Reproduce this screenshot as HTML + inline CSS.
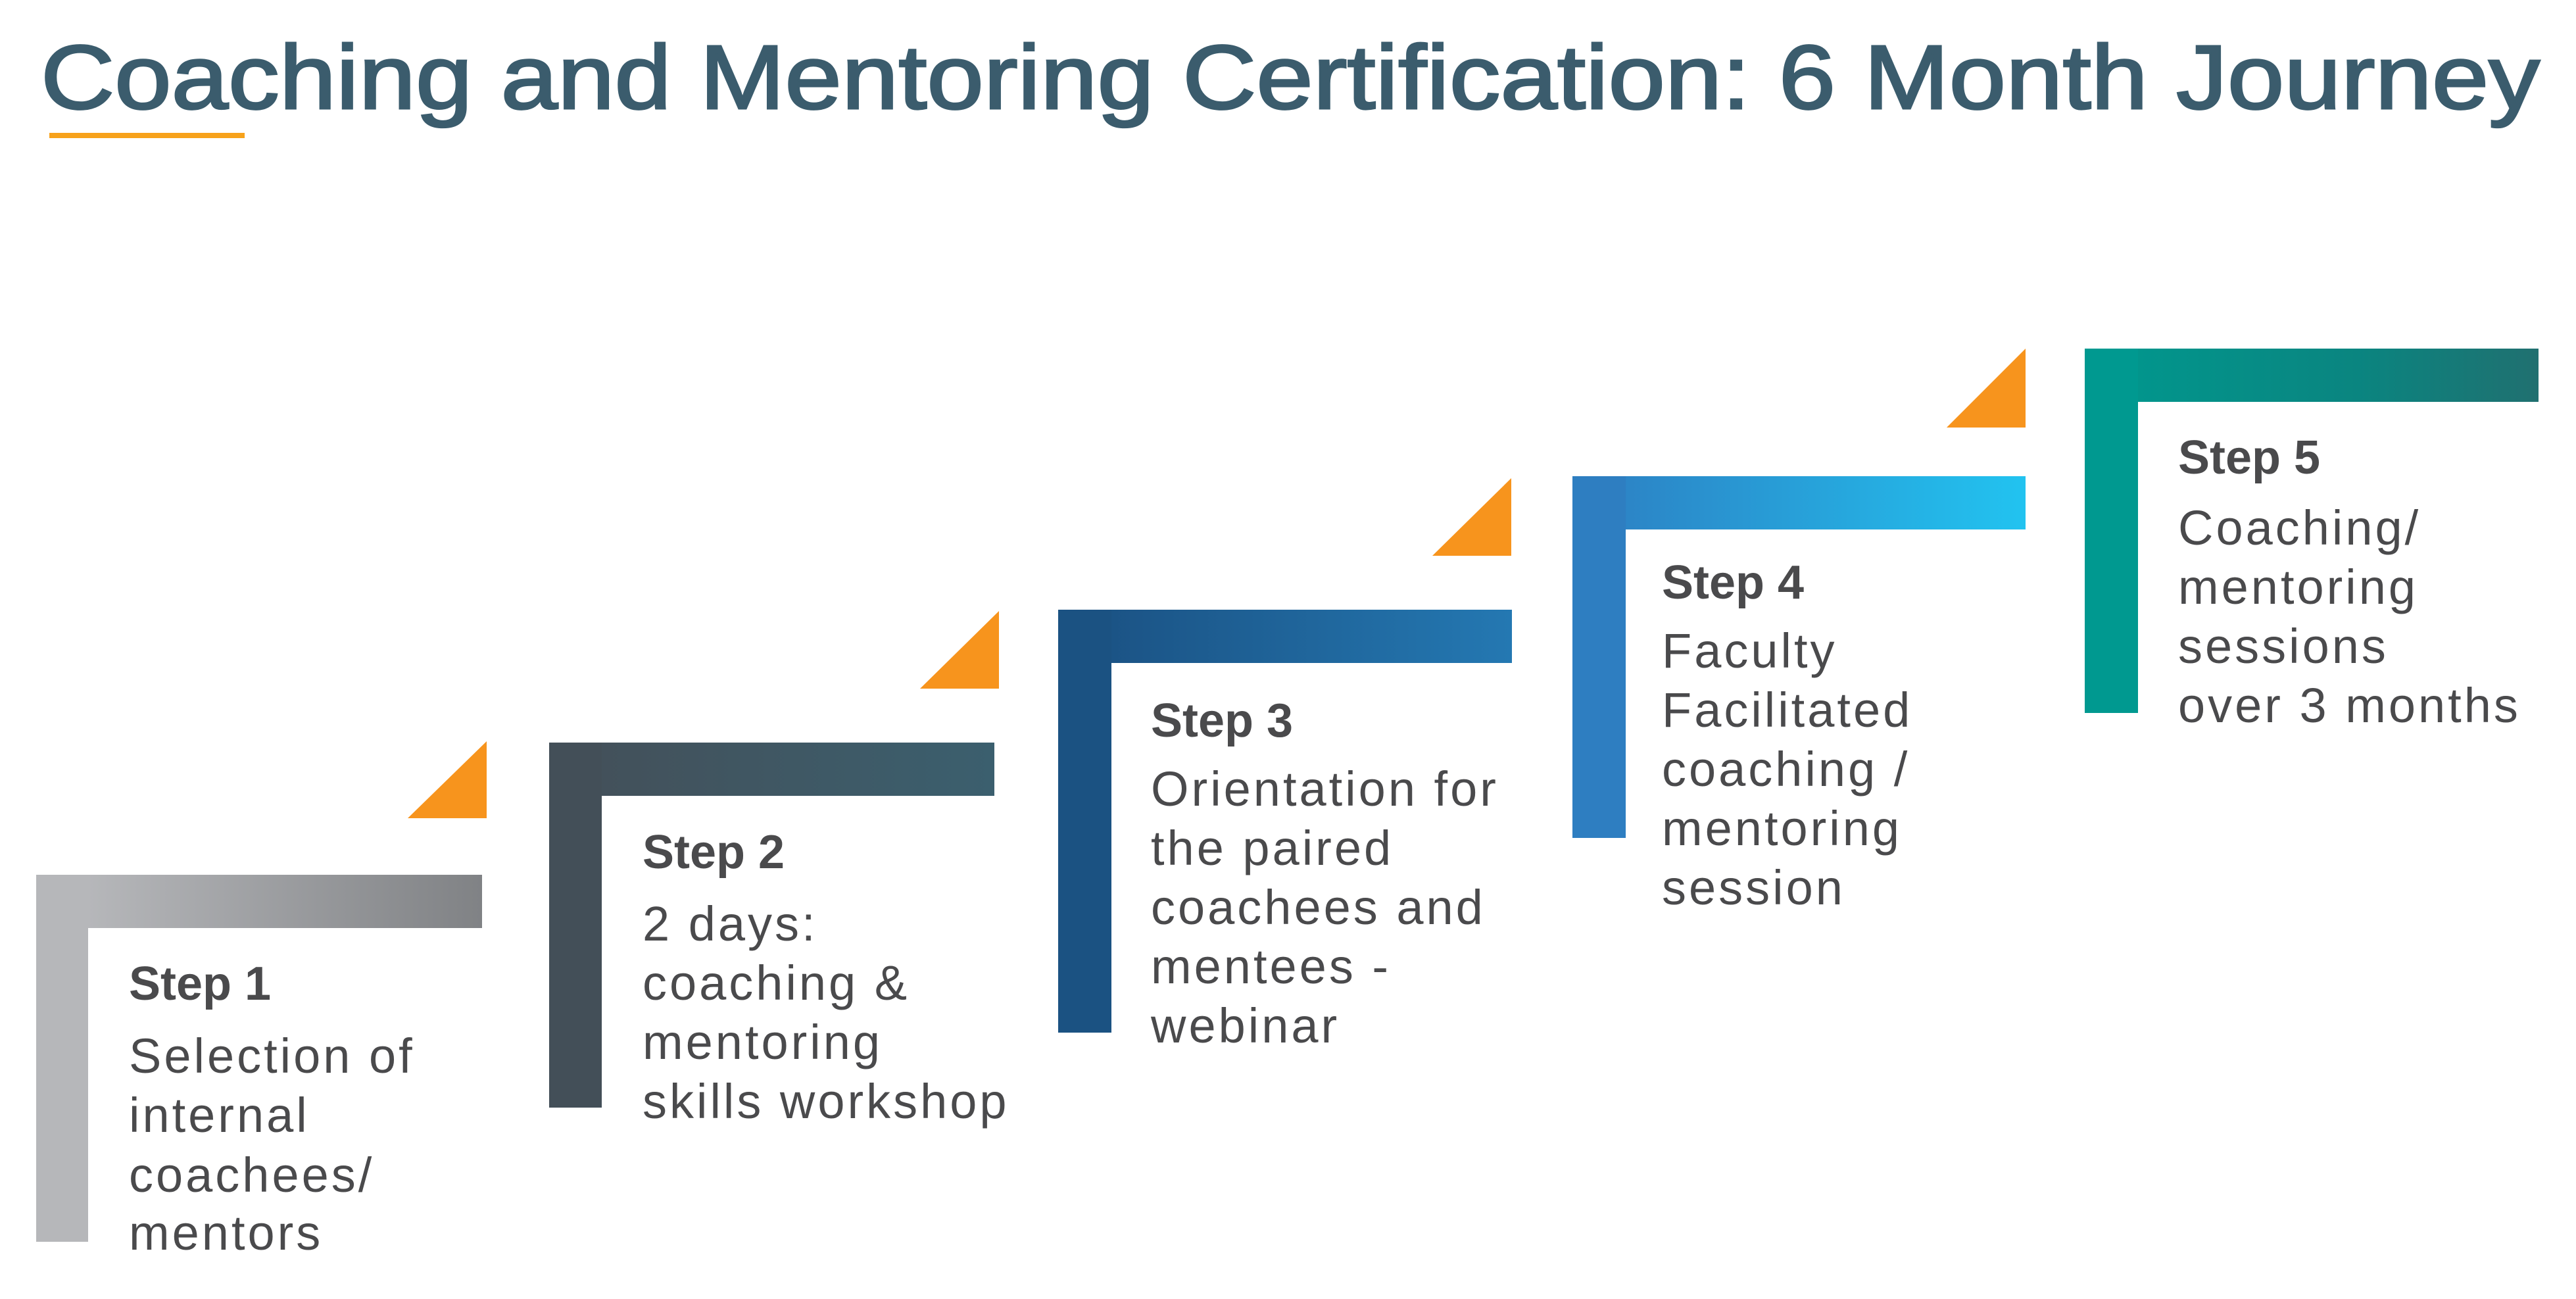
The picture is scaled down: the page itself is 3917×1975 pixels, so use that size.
<!DOCTYPE html>
<html><head><meta charset="utf-8"><style>
html,body{margin:0;padding:0;background:#fff;}
svg{display:block;}
text{font-family:"Liberation Sans",sans-serif;fill:#4a4a4c;}
.h{font-weight:bold;font-size:72px;}
.b{font-size:74px;letter-spacing:4px;}
</style></head><body>
<svg width="3917" height="1975" viewBox="0 0 3917 1975" xmlns="http://www.w3.org/2000/svg">
<defs>
<linearGradient id="g1" x1="0" x2="1"><stop offset="0" stop-color="#bdbec1"/><stop offset="1" stop-color="#808285"/></linearGradient>
<linearGradient id="g2" x1="0" x2="1"><stop offset="0" stop-color="#444f58"/><stop offset="1" stop-color="#3b5f6e"/></linearGradient>
<linearGradient id="g3" x1="0" x2="1"><stop offset="0" stop-color="#1a4f80"/><stop offset="1" stop-color="#2478b2"/></linearGradient>
<linearGradient id="g4" x1="0" x2="1"><stop offset="0" stop-color="#2d7dc1"/><stop offset="1" stop-color="#22c3f0"/></linearGradient>
<linearGradient id="g5" x1="0" x2="1"><stop offset="0" stop-color="#00998f"/><stop offset="0.6" stop-color="#0a8580"/><stop offset="1" stop-color="#207070"/></linearGradient>
</defs>
<rect width="3917" height="1975" fill="#fff"/>
<text x="62" y="165" font-size="138" textLength="3800" lengthAdjust="spacingAndGlyphs" style="fill:#3b5c6d;stroke:#3b5c6d;stroke-width:3">Coaching and Mentoring Certification:  6 Month Journey</text>
<rect x="75" y="202" width="297" height="8" fill="#f7a21b"/>

<!-- Step 1 -->
<rect x="55" y="1330" width="678" height="81" fill="url(#g1)"/>
<rect x="55" y="1330" width="79" height="558" fill="#b6b7ba"/>
<polygon points="620,1244 740,1244 740,1127" fill="#f7941d"/>
<text class="h" x="196" y="1520">Step 1</text>
<text class="b" x="196" y="1631">Selection of</text>
<text class="b" x="196" y="1721">internal</text>
<text class="b" x="196" y="1812">coachees/</text>
<text class="b" x="196" y="1900">mentors</text>

<!-- Step 2 -->
<rect x="835" y="1129" width="677" height="81" fill="url(#g2)"/>
<rect x="835" y="1129" width="80" height="555" fill="#434f58"/>
<polygon points="1399,1047 1519,1047 1519,929" fill="#f7941d"/>
<text class="h" x="977" y="1320">Step 2</text>
<text class="b" x="977" y="1430">2 days:</text>
<text class="b" x="977" y="1520">coaching &amp;</text>
<text class="b" x="977" y="1610">mentoring</text>
<text class="b" x="977" y="1700">skills workshop</text>

<!-- Step 3 -->
<rect x="1609" y="927" width="690" height="81" fill="url(#g3)"/>
<rect x="1609" y="927" width="81" height="643" fill="#1b5282"/>
<polygon points="2178,845 2298,845 2298,727" fill="#f7941d"/>
<text class="h" x="1750" y="1120">Step 3</text>
<text class="b" x="1750" y="1225">Orientation for</text>
<text class="b" x="1750" y="1315">the paired</text>
<text class="b" x="1750" y="1405">coachees and</text>
<text class="b" x="1750" y="1495">mentees -</text>
<text class="b" x="1750" y="1585">webinar</text>

<!-- Step 4 -->
<rect x="2391" y="724" width="689" height="81" fill="url(#g4)"/>
<rect x="2391" y="724" width="81" height="550" fill="#2e7ec1"/>
<polygon points="2960,650 3080,650 3080,530" fill="#f7941d"/>
<text class="h" x="2527" y="910">Step 4</text>
<text class="b" x="2527" y="1015">Faculty</text>
<text class="b" x="2527" y="1105">Facilitated</text>
<text class="b" x="2527" y="1195">coaching /</text>
<text class="b" x="2527" y="1285">mentoring</text>
<text class="b" x="2527" y="1375">session</text>

<!-- Step 5 -->
<rect x="3170" y="530" width="690" height="81" fill="url(#g5)"/>
<rect x="3170" y="530" width="81" height="554" fill="#009990"/>
<text class="h" x="3312" y="720">Step 5</text>
<text class="b" x="3312" y="828">Coaching/</text>
<text class="b" x="3312" y="918">mentoring</text>
<text class="b" x="3312" y="1008">sessions</text>
<text class="b" x="3312" y="1098">over 3 months</text>
</svg>
</body></html>
